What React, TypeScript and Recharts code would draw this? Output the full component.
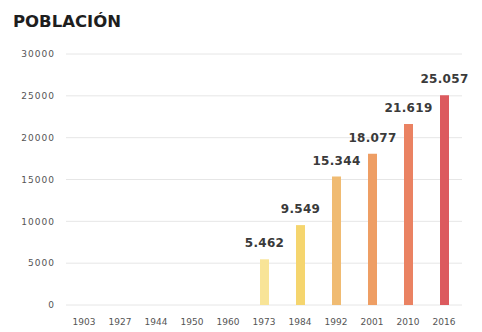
import { BarChart, Bar, XAxis, YAxis, CartesianGrid, LabelList, Cell } from "recharts";

// Censos de población
const years = ["1903", "1927", "1944", "1950", "1960", "1973", "1984", "1992", "2001", "2010", "2016"];
const population: (number | null)[] = [null, null, null, null, null, 5462, 9549, 15344, 18077, 21619, 25057];
const barColors = ["#f8e69a", "#f8e69a", "#f8e69a", "#f8e69a", "#f8e69a", "#f8e497", "#f5d56e", "#f0bb72", "#ee9e64", "#ea8262", "#dc5a5e"];
const yTicks = [0, 5000, 10000, 15000, 20000, 25000, 30000];

const data = years.map((y, i) => ({ year: y, value: population[i] }));

// separador de miles con punto
const fmt = (v: any) => (v == null ? "" : String(v).replace(/\B(?=(\d{3})+(?!\d))/g, "."));

const tickFont = "'DejaVu Sans', sans-serif";

export default function App() {
  return (
    <div
      style={{
        position: "absolute",
        left: 0,
        top: 0,
        width: 482,
        height: 332,
        background: "#fff",
        fontFamily: tickFont,
      }}
    >
      <div
        style={{
          position: "absolute",
          left: 13,
          top: 12,
          fontSize: 16.5,
          fontWeight: 700,
          color: "#1e1e1e",
        }}
      >
        POBLACIÓN
      </div>
      <BarChart
        width={482}
        height={332}
        data={data}
        margin={{ top: 54, right: 20, bottom: 7, left: 4 }}
        barSize={9}
      >
        <CartesianGrid vertical={false} stroke="#e6e6e6" />
        <XAxis
          dataKey="year"
          axisLine={false}
          tickLine={false}
          height={20}
          interval={0}
          tickMargin={8}
          tick={{ fontSize: 9, fill: "#555", fontFamily: tickFont }}
        />
        <YAxis
          domain={[0, 30000]}
          ticks={yTicks}
          axisLine={false}
          tickLine={false}
          width={62}
          tick={{ fontSize: 9, fill: "#555", fontFamily: tickFont, letterSpacing: 1 }}
          tickMargin={5}
        />
        <Bar dataKey="value" isAnimationActive={false}>
          {data.map((_, i) => (
            <Cell key={i} fill={barColors[i]} />
          ))}
          <LabelList
            dataKey="value"
            position="top"
            offset={12}
            formatter={fmt}
            style={{ fontSize: 12, fontWeight: 700, fill: "#3a3a3a", fontFamily: tickFont, letterSpacing: 0.3 }}
          />
        </Bar>
      </BarChart>
    </div>
  );
}
